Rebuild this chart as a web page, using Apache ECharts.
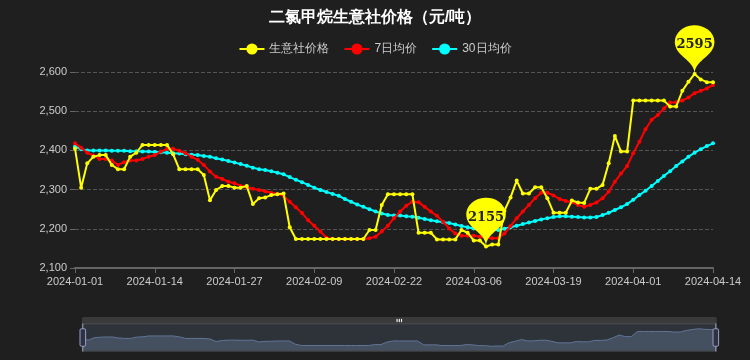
<!DOCTYPE html>
<html><head><meta charset="utf-8">
<script src="https://cdn.jsdelivr.net/npm/echarts@6/dist/echarts.min.js"></script>
<style>html,body{margin:0;padding:0;background:#1f1f1f;}#c{width:750px;height:360px;}</style>
</head><body><div id="c"></div>
<script>
// categories: daily dates 2024-01-01 .. 2024-04-14
const categories = (function(){const a=[];const d=new Date(Date.UTC(2024,0,1));for(let i=0;i<105;i++){a.push(d.toISOString().slice(0,10));d.setUTCDate(d.getUTCDate()+1);}return a;})();
const seriesNames = ['生意社价格','7日均价','30日均价'];
const price = [2405,2305,2367,2384,2388,2388,2363,2352,2352,2384,
2394,2414,2414,2414,2414,2414,2390,2352,2352,2352,
2352,2337,2273,2299,2309,2309,2305,2305,2309,2263,
2278,2280,2286,2288,2290,2204,2174,2174,2174,2174,
2174,2174,2174,2174,2174,2174,2174,2174,2197,2197,
2261,2288,2288,2288,2288,2288,2190,2190,2190,2173,
2173,2173,2173,2197,2190,2170,2170,2155,2160,2160,
2246,2280,2323,2290,2290,2306,2306,2278,2241,2241,
2241,2272,2267,2266,2302,2302,2312,2367,2437,2397,
2397,2527,2527,2527,2527,2527,2527,2512,2512,2552,
2575,2595,2581,2574,2574];
const ma7 = [2418,2407,2394,2387,2378,2378,2374,2363,2370,2374,
2374,2378,2384,2388,2397,2404,2404,2399,2393,2384,
2376,2363,2346,2333,2327,2320,2316,2310,2306,2302,
2299,2296,2292,2289,2284,2269,2255,2240,2222,2208,
2193,2177,2174,2174,2174,2174,2174,2174,2176,2180,
2193,2208,2227,2244,2259,2269,2268,2256,2244,2233,
2218,2201,2188,2182,2182,2182,2180,2178,2176,2176,
2188,2207,2227,2244,2261,2278,2292,2292,2285,2276,
2271,2268,2261,2256,2261,2267,2278,2295,2320,2341,
2360,2393,2422,2454,2478,2490,2507,2522,2523,2527,
2535,2546,2552,2558,2567];
const ma30 = [2410,2403,2400,2400,2400,2400,2399,2399,2399,2398,
2398,2397,2397,2396,2395,2394,2393,2392,2390,2389,
2388,2386,2384,2380,2377,2373,2369,2365,2361,2356,
2352,2350,2347,2343,2339,2332,2325,2319,2312,2305,
2299,2294,2289,2284,2276,2269,2262,2256,2250,2244,
2239,2235,2234,2234,2232,2231,2228,2225,2222,2219,
2217,2215,2211,2207,2204,2201,2199,2197,2197,2197,
2200,2204,2208,2212,2216,2220,2224,2227,2230,2232,
2232,2231,2230,2229,2229,2230,2235,2241,2248,2255,
2263,2274,2286,2297,2309,2322,2335,2347,2360,2372,
2384,2394,2403,2411,2418];
const yTicks = {min:2100, max:2600, interval:100};

const chart = echarts.init(document.getElementById('c'), null, {renderer:'canvas'});
function lineSeries(name, data, color, extra){
  return Object.assign({
    name, type:'line', data, symbol:'circle', symbolSize:4, showSymbol:true,
    itemStyle:{color}, lineStyle:{color, width:2}
  }, extra||{});
}
chart.setOption({
  backgroundColor:'#1f1f1f',
  animation:false,
  title:{text:'二氯甲烷生意社价格（元/吨）', left:'center', top:5,
    textStyle:{color:'#fff', fontSize:16, fontWeight:'bold'}},
  legend:{top:38, left:'center', itemGap:14, textStyle:{color:'#ccc', fontSize:12},
    data:seriesNames},
  grid:{left:75, right:37, top:72, bottom:92},
  xAxis:{type:'category', data:categories, boundaryGap:false,
    axisLine:{lineStyle:{color:'#666', width:2}},
    axisTick:{show:true, interval:12, lineStyle:{color:'#666'}},
    axisLabel:{color:'#ccc', interval:12, fontSize:11}},
  yAxis:{type:'value', min:yTicks.min, max:yTicks.max, interval:yTicks.interval,
    axisLine:{show:false}, axisTick:{show:true, lineStyle:{color:'#666'}},
    axisLabel:{color:'#ccc', fontSize:11},
    splitLine:{lineStyle:{color:'#555', type:'dashed'}}},
  dataZoom:[{type:'slider', left:79, right:36, bottom:15, height:28,
    start:0, end:100,
    borderColor:'#444',
    backgroundColor:'rgba(0,0,0,0)',
    fillerColor:'rgba(90,110,140,0.25)',
    dataBackground:{lineStyle:{color:'#63779a', width:1}, areaStyle:{color:'#3c4452', opacity:1}},
    selectedDataBackground:{lineStyle:{color:'#63779a', width:1}, areaStyle:{color:'#3c4452', opacity:1}},
    handleStyle:{color:'#2f3147', borderColor:'#9aa0c0'},
    moveHandleStyle:{color:'#555'},
    showDetail:false, textStyle:{color:'#ccc'}}],
  series:[
    lineSeries(seriesNames[0], price, '#ffff00', {
      z:3,
      markPoint:{symbol:'pin', symbolSize:[66,56],
        itemStyle:{color:'#ffff00'},
        label:{color:'#222', fontWeight:'bold', fontSize:13, fontFamily:'DejaVu Serif'},
        data:[{type:'max', name:'最高'},{type:'min', name:'最低'}]}
    }),
    lineSeries(seriesNames[1], ma7, '#ff0000', {z:2}),
    lineSeries(seriesNames[2], ma30, '#00ffff', {z:1})
  ]
});
</script></body></html>
